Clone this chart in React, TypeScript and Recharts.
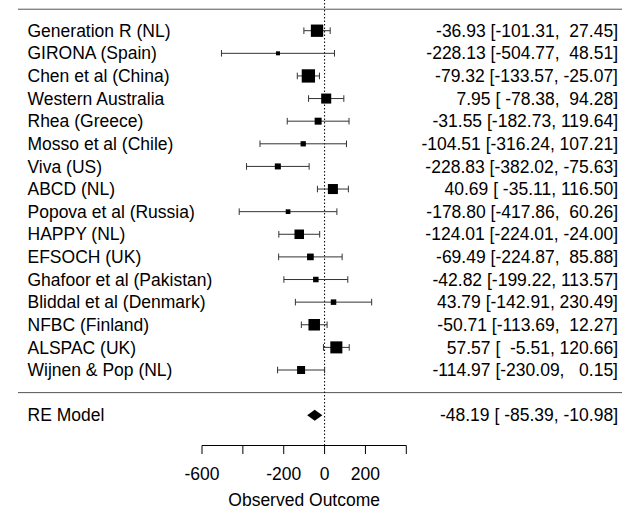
import { ScatterChart, Scatter, XAxis, YAxis, ErrorBar, ReferenceLine } from 'recharts';

// study-level results
const studies = [
  'Generation R (NL)',
  'GIRONA (Spain)',
  'Chen et al (China)',
  'Western Australia',
  'Rhea (Greece)',
  'Mosso et al (Chile)',
  'Viva (US)',
  'ABCD (NL)',
  'Popova et al (Russia)',
  'HAPPY (NL)',
  'EFSOCH (UK)',
  'Ghafoor et al (Pakistan)',
  'Bliddal et al (Denmark)',
  'NFBC (Finland)',
  'ALSPAC (UK)',
  'Wijnen & Pop (NL)',
];
const estimates = [-36.93, -228.13, -79.32, 7.95, -31.55, -104.51, -228.83, 40.69, -178.8, -124.01, -69.49, -42.82, 43.79, -50.71, 57.57, -114.97];
const lowerCI = [-101.31, -504.77, -133.57, -78.38, -182.73, -316.24, -382.02, -35.11, -417.86, -224.01, -224.87, -199.22, -142.91, -113.69, -5.51, -230.09];
const upperCI = [27.45, 48.51, -25.07, 94.28, 119.64, 107.21, -75.63, 116.5, 60.26, -24.0, 85.88, 113.57, 230.49, 12.27, 120.66, 0.15];
const weights = [12.4, 1.2, 13.7, 9.3, 5.2, 2.9, 3.9, 9.3, 2.1, 8.6, 4.8, 3.2, 3.2, 11.3, 12.0, 6.6];

// pooled random-effects result
const summaryLabel = 'RE Model';
const summaryEstimate = -48.19;
const summaryLower = -85.39;
const summaryUpper = -10.98;

const xTicks = [-600, -400, -200, 0, 200, 400];
const xTickLabels = ['-600', '', '-200', '0', '200', ''];
const xTitle = 'Observed Outcome';

const FONT = '"Liberation Sans", Arial, Helvetica, sans-serif';
const FONT_SIZE = 17.5;

// vertical layout in row units (row 1 = first study, counting downwards)
const ROW_PX = 22.62;
const FIRST_ROW_PX = 30.7;
const AXIS_PX = 445.5;
const SEPARATOR_ROW = studies.length + 1;
const SUMMARY_ROW = studies.length + 2;
const TOP_LINE_ROW = 0.05;
const yDomain = [1 - FIRST_ROW_PX / ROW_PX, 1 + (AXIS_PX - FIRST_ROW_PX) / ROW_PX];

const fmt = (v: number) => v.toFixed(2);
const padTo = (values: number[]) => {
  const width = Math.max(...values.map((v) => fmt(v).length));
  return values.map((v) => fmt(v).padStart(width, ' '));
};

const allEst = padTo([...estimates, summaryEstimate]);
const allLow = padTo([...lowerCI, summaryLower]);
const allUp = padTo([...upperCI, summaryUpper]);
const annotations = allEst.map((e, i) => `${e} [${allLow[i]}, ${allUp[i]}]`);

const rowLabels: Record<number, { name: string; text: string }> = {};
studies.forEach((name, i) => {
  rowLabels[i + 1] = { name, text: annotations[i] };
});
rowLabels[SUMMARY_ROW] = { name: summaryLabel, text: annotations[studies.length] };
const yTicks = Object.keys(rowLabels).map(Number);

const points = studies.map((name, i) => ({
  name,
  row: i + 1,
  est: estimates[i],
  err: [estimates[i] - lowerCI[i], upperCI[i] - estimates[i]],
  weight: weights[i],
}));

const wMin = Math.min(...weights);
const wMax = Math.max(...weights);
const squareSide = (w: number) => 4 + ((w - wMin) / (wMax - wMin)) * 9.3;

const StudySquare = (props: any) => {
  const { cx, cy, payload } = props;
  const s = squareSide(payload.weight);
  return <rect x={cx - s / 2} y={cy - s / 2} width={s} height={s} fill="#000" />;
};

const SummaryDiamond = (props: any) => {
  const { x1, x2, y1 } = props;
  const mid = x1 + ((x2 - x1) * (summaryEstimate - summaryLower)) / (summaryUpper - summaryLower);
  const h = 5.5;
  return <polygon points={`${x1},${y1} ${mid},${y1 - h} ${x2},${y1} ${mid},${y1 + h}`} fill="#000" />;
};

const FullWidthRule = (props: any) => (
  <line x1={18} x2={622} y1={props.y1} y2={props.y1} stroke="#555" strokeWidth={1} />
);

const NameTick = ({ y, payload }: any) => (
  <text x={27.5} y={y} dy="0.35em" textAnchor="start" fontSize={FONT_SIZE} fontFamily={FONT} fill="#000">
    {rowLabels[payload.value]?.name}
  </text>
);

const AnnotationTick = ({ y, payload }: any) => (
  <text
    x={618}
    y={y}
    dy="0.35em"
    textAnchor="end"
    fontSize={FONT_SIZE}
    fontFamily={FONT}
    fill="#000"
    style={{ whiteSpace: 'pre' }}
  >
    {rowLabels[payload.value]?.text}
  </text>
);

const OutcomeTick = ({ x, y, index }: any) => (
  <text x={x} y={y} dy={24.2} textAnchor="middle" fontSize={FONT_SIZE} fontFamily={FONT} fill="#000">
    {xTickLabels[index]}
  </text>
);

export default function App() {
  return (
    <div style={{ position: 'absolute', left: 0, top: 0, background: '#fff' }}>
      <ScatterChart width={622} height={510} margin={{ top: 0, right: 0, bottom: 0, left: 0 }}>
        <XAxis
          type="number"
          dataKey="est"
          domain={[-600, 400]}
          allowDataOverflow
          ticks={xTicks}
          interval={0}
          height={64.5}
          tickSize={8.5}
          tick={<OutcomeTick />}
          axisLine={{ stroke: '#000' }}
          tickLine={{ stroke: '#000' }}
          label={{ value: xTitle, position: 'insideBottom', offset: 4, fontSize: FONT_SIZE, fontFamily: FONT, fill: '#000' }}
        />
        <YAxis
          yAxisId="left"
          type="number"
          dataKey="row"
          domain={yDomain}
          allowDataOverflow
          reversed
          ticks={yTicks}
          interval={0}
          width={202}
          axisLine={false}
          tickLine={false}
          tick={<NameTick />}
        />
        <YAxis
          yAxisId="right"
          orientation="right"
          type="number"
          dataKey="row"
          domain={yDomain}
          allowDataOverflow
          reversed
          ticks={yTicks}
          interval={0}
          width={215.7}
          axisLine={false}
          tickLine={false}
          tick={<AnnotationTick />}
        />
        <ReferenceLine yAxisId="left" y={TOP_LINE_ROW} shape={FullWidthRule} />
        <ReferenceLine yAxisId="left" y={SEPARATOR_ROW} shape={FullWidthRule} />
        <ReferenceLine yAxisId="left" x={0} stroke="#000" strokeDasharray="1.5 2" />
        <Scatter yAxisId="left" data={points} shape={StudySquare} isAnimationActive={false}>
          <ErrorBar dataKey="err" direction="x" width={3.3} stroke="#333" strokeWidth={1} isAnimationActive={false} />
        </Scatter>
        <Scatter yAxisId="right" data={[{ row: SUMMARY_ROW, est: summaryEstimate }]} shape={() => null} isAnimationActive={false} />
        <ReferenceLine
          yAxisId="left"
          segment={[
            { x: summaryLower, y: SUMMARY_ROW },
            { x: summaryUpper, y: SUMMARY_ROW },
          ]}
          shape={SummaryDiamond}
        />
      </ScatterChart>
    </div>
  );
}
